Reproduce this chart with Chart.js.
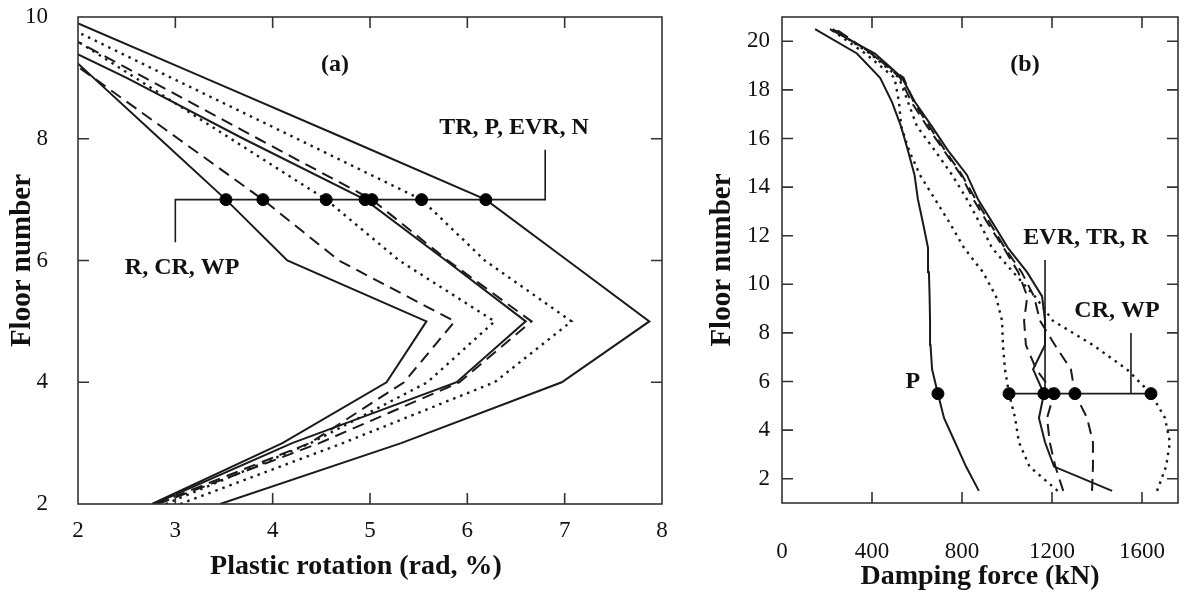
<!DOCTYPE html>
<html>
<head>
<meta charset="utf-8">
<script src="https://cdn.jsdelivr.net/npm/chart.js@4.4.1/dist/chart.umd.min.js"></script>
<style>
  body { margin: 0; background: #fff; }
  canvas { position: absolute; top: 0; }
  #rotChart { left: 0; }
  #forceChart { left: 700px; }
</style>
</head>
<body>
<canvas id="rotChart" width="700" height="592"></canvas>
<canvas id="forceChart" width="485" height="592"></canvas>
<script>
// (a) plastic rotation (rad, %) per floor
const floorsA = [2, 3, 4, 5, 6, 7, 8, 9, 10];
const rotR   = [2.76, 4.10, 5.17, 5.58, 4.15, 3.52, 2.84, 2.16, 1.48];
const rotCR  = [2.80, 4.38, 5.35, 5.87, 4.68, 3.90, 3.03, 2.16, 1.29];
const rotWP  = [2.90, 4.39, 5.59, 6.28, 5.30, 4.55, 3.57, 2.59, 1.60];
const rotTR  = [2.78, 4.20, 5.89, 6.60, 5.78, 4.95, 3.70, 2.50, 1.20];
const rotP   = [2.82, 4.48, 5.92, 6.66, 5.80, 5.02, 3.85, 2.69, 1.52];
const rotEVR = [3.05, 4.72, 6.28, 7.07, 6.18, 5.53, 4.25, 2.96, 1.68];
const rotN   = [3.46, 5.32, 6.97, 7.87, 7.03, 6.19, 4.75, 3.30, 1.85];
const markFloorA = 7;
const marksA = [3.52, 3.90, 4.55, 4.95, 5.02, 5.53, 6.19];
const ticksRot = [2, 3, 4, 5, 6, 7, 8];
const ticksFloorA = [2, 4, 6, 8, 10];

// (b) damping force (kN) per storey
const floorsB = [1.5, 2.5, 3.5, 4.5, 5.5, 6.5, 7.5, 8.5, 9.5, 10.5,
                 11.5, 12.5, 13.5, 14.5, 15.5, 16.5, 17.5, 18.5, 19.5, 20.5];
const forceP   = [875, 818, 769, 720, 693, 667, 660, 658, 656, 653, 649, 627, 604, 589, 560, 529, 489, 436, 333, 147];
const forceEVR = [1225, 1100, 1053, 1036, 1009, 991, 982, 978, 951, 893, 809, 747, 680, 613, 565, 530, 520, 500, 370, 215];
const forceTR  = [1467, 1209, 1169, 1142, 1164, 1116, 1169, 1169, 1156, 1089, 1004, 938, 871, 822, 738, 666, 591, 533, 413, 213];
const forceR   = [1250, 1215, 1190, 1178, 1209, 1130, 1084, 1076, 1090, 1050, 985, 915, 850, 795, 720, 645, 575, 525, 400, 225];
const forceCR  = [1378, 1382, 1382, 1356, 1302, 1284, 1213, 1147, 1120, 1065, 990, 925, 860, 800, 725, 655, 585, 540, 395, 240];
const forceWP  = [1667, 1707, 1724, 1702, 1640, 1533, 1382, 1204, 1124, 1027, 933, 880, 822, 756, 680, 600, 560, 520, 390, 230];
const markFloorB = 5.5;
const marksB = [693, 1009, 1164, 1209, 1302, 1640];
const ticksForce = [0, 400, 800, 1200, 1600];
const ticksFloorB = [2, 4, 6, 8, 10, 12, 14, 16, 18, 20];

// callouts
const leaderA  = [[3.0, 6.3], [3.0, 7], [6.8, 7], [6.8, 7.82]];
const leaderB1 = [[1009, 5.5], [1640, 5.5]];
const leaderB2 = [[1169, 5.5], [1169, 11.0]];
const leaderB3 = [[1551, 5.5], [1551, 8.0]];
const textA = [['(a)', 4.64, 9.21], ['TR, P, EVR, N', 6.48, 8.18], ['R, CR, WP', 3.07, 5.88]];
const textB = [['(b)', 1080, 19.03], ['EVR, TR, R', 1351, 11.93], ['CR, WP', 1489, 8.89], ['P', 582, 5.98]];

const INK = '#1a1a1a';
const SERIF = "'Liberation Serif', 'Times New Roman', serif";
const SOLID = [], DASH = [12, 7], DOT = [2.5, 5];

function pts(xs, ys) { return xs.map((v, i) => ({ x: v, y: ys[i] })); }
function pairs(arr) { return arr.map(p => ({ x: p[0], y: p[1] })); }

function curve(xs, ys, dash) {
  return {
    data: pts(xs, ys), showLine: true, pointRadius: 0,
    borderColor: INK, borderWidth: dash === DOT ? 2.4 : 2,
    borderDash: dash, borderCapStyle: 'butt', tension: 0
  };
}
function leader(arr) {
  return { data: pairs(arr), showLine: true, pointRadius: 0, borderColor: INK, borderWidth: 1.6 };
}
function marks(xs, y) {
  return { data: xs.map(v => ({ x: v, y: y })), showLine: false, pointRadius: 6,
           pointBackgroundColor: '#000', pointBorderColor: '#000' };
}

// put the plot area exactly where the reference has it
const pinArea = {
  id: 'pinArea',
  afterLayout(chart, args, opts) {
    const t = opts.area, { x, y } = chart.scales;
    Object.assign(chart.chartArea, { left: t.left, top: t.top, right: t.right, bottom: t.bottom,
                                     width: t.right - t.left, height: t.bottom - t.top });
    Object.assign(x, { left: t.left, right: t.right, width: t.right - t.left,
                       top: t.bottom, bottom: chart.height, height: chart.height - t.bottom });
    Object.assign(y, { left: 0, right: t.left, width: t.left,
                       top: t.top, bottom: t.bottom, height: t.bottom - t.top });
    x.configure();
    y.configure();
  }
};

const frameTicks = {
  id: 'frameTicks',
  afterDatasetsDraw(chart, args, opts) {
    const { ctx, chartArea: a, scales: { x, y } } = chart;
    ctx.save();
    ctx.strokeStyle = '#333';
    ctx.lineWidth = 1.6;
    ctx.strokeRect(a.left, a.top, a.right - a.left, a.bottom - a.top);
    const L = 11;
    ctx.beginPath();
    x.ticks.forEach(t => {
      const px = x.getPixelForValue(t.value);
      if (px <= a.left + 1 || px >= a.right - 1) return;
      ctx.moveTo(px, a.bottom); ctx.lineTo(px, a.bottom - L);
      ctx.moveTo(px, a.top); ctx.lineTo(px, a.top + L);
    });
    y.ticks.forEach(t => {
      const py = y.getPixelForValue(t.value);
      if (py <= a.top + 1 || py >= a.bottom - 1) return;
      ctx.moveTo(a.left, py); ctx.lineTo(a.left + L, py);
      ctx.moveTo(a.right, py); ctx.lineTo(a.right - L, py);
    });
    ctx.stroke();
    ctx.fillStyle = '#111';
    ctx.font = 'bold 24px ' + SERIF;
    ctx.textAlign = 'center';
    ctx.textBaseline = 'middle';
    opts.labels.forEach(l => ctx.fillText(l[0], x.getPixelForValue(l[1]), y.getPixelForValue(l[2])));
    ctx.restore();
  }
};

function axes(cfg) {
  return {
    x: {
      type: 'linear', min: cfg.xmin, max: cfg.xmax,
      grid: { display: false, drawTicks: false }, border: { display: false },
      afterBuildTicks: s => { s.ticks = cfg.xticks.map(v => ({ value: v })); },
      ticks: { padding: cfg.xpad, color: '#111', callback: v => String(v),
               font: { family: SERIF, size: 23 } },
      title: { display: true, text: cfg.xtitle, color: '#111', padding: { top: 0, bottom: cfg.xtpad },
               font: { family: SERIF, size: 28, weight: 'bold' } }
    },
    y: {
      type: 'linear', min: cfg.ymin, max: cfg.ymax,
      grid: { display: false, drawTicks: false }, border: { display: false },
      afterBuildTicks: s => { s.ticks = cfg.yticks.map(v => ({ value: v })); },
      ticks: { padding: cfg.ypad, color: '#111', callback: v => String(v),
               font: { family: SERIF, size: 23 } },
      title: { display: true, text: 'Floor number', color: '#111', padding: { top: 5, bottom: 0 },
               font: { family: SERIF, size: 29, weight: 'bold' } }
    }
  };
}

Chart.defaults.font.family = SERIF;

new Chart(document.getElementById('rotChart'), {
  type: 'scatter',
  data: {
    datasets: [
      marks(marksA, markFloorA),
      curve(rotR, floorsA, SOLID),
      curve(rotCR, floorsA, DASH),
      curve(rotWP, floorsA, DOT),
      curve(rotTR, floorsA, SOLID),
      curve(rotP, floorsA, DASH),
      curve(rotEVR, floorsA, DOT),
      curve(rotN, floorsA, SOLID),
      leader(leaderA)
    ]
  },
  options: {
    responsive: false, animation: false, devicePixelRatio: 1,
    scales: axes({ xmin: 2, xmax: 8, xticks: ticksRot, xpad: 13, xtpad: 8,
                   xtitle: 'Plastic rotation (rad, %)\u2003',
                   ymin: 2, ymax: 10, yticks: ticksFloorA, ypad: 30 }),
    plugins: {
      legend: { display: false }, tooltip: { enabled: false },
      pinArea: { area: { left: 78, top: 17, right: 662, bottom: 504 } },
      frameTicks: { labels: textA }
    }
  },
  plugins: [pinArea, frameTicks]
});

new Chart(document.getElementById('forceChart'), {
  type: 'scatter',
  data: {
    datasets: [
      marks(marksB, markFloorB),
      curve(forceP, floorsB, SOLID),
      curve(forceEVR, floorsB, DOT),
      curve(forceTR, floorsB, SOLID),
      curve(forceR, floorsB, DASH),
      curve(forceCR, floorsB, DASH),
      curve(forceWP, floorsB, DOT),
      leader(leaderB1),
      leader(leaderB2),
      leader(leaderB3)
    ]
  },
  options: {
    responsive: false, animation: false, devicePixelRatio: 1,
    scales: axes({ xmin: 0, xmax: 1760, xticks: ticksForce, xpad: 35, xtpad: -2,
                   xtitle: 'Damping force (kN)',
                   ymin: 1, ymax: 21, yticks: ticksFloorB, ypad: 12 }),
    plugins: {
      legend: { display: false }, tooltip: { enabled: false },
      pinArea: { area: { left: 82, top: 17, right: 478, bottom: 503 } },
      frameTicks: { labels: textB }
    }
  },
  plugins: [pinArea, frameTicks]
});
</script>
</body>
</html>
